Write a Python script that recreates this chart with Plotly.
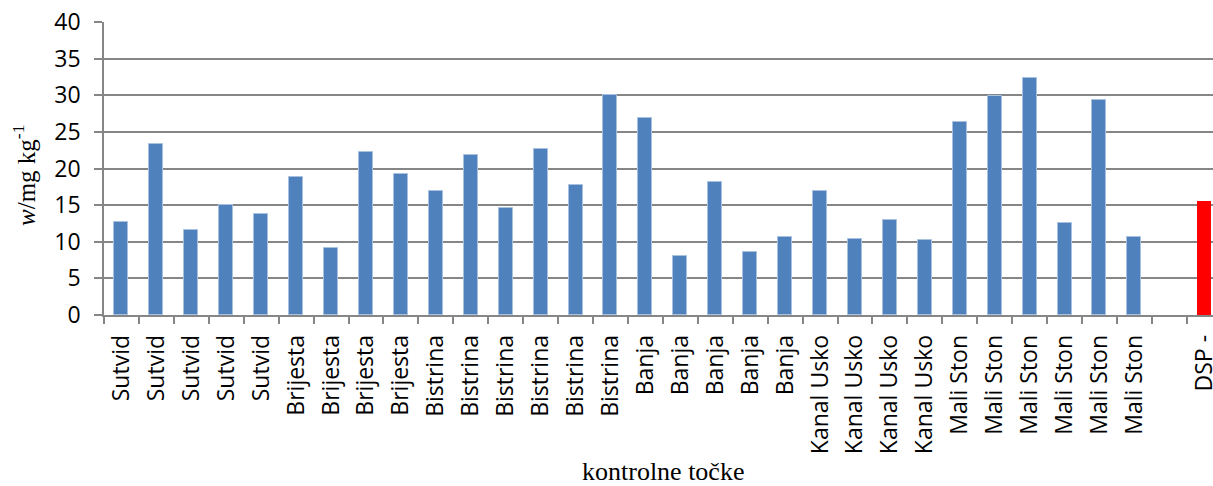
import plotly.graph_objects as go

labels = ["Sutvid", "Sutvid", "Sutvid", "Sutvid", "Sutvid",
          "Brijesta", "Brijesta", "Brijesta", "Brijesta",
          "Bistrina", "Bistrina", "Bistrina", "Bistrina", "Bistrina", "Bistrina",
          "Banja", "Banja", "Banja", "Banja", "Banja",
          "Kanal Usko", "Kanal Usko", "Kanal Usko", "Kanal Usko",
          "Mali Ston", "Mali Ston", "Mali Ston", "Mali Ston", "Mali Ston", "Mali Ston"]
values = [12.7, 23.4, 11.6, 15.0, 13.8,
          18.9, 9.2, 22.2, 19.2,
          16.9, 21.9, 14.6, 22.7, 17.7, 30.0,
          26.9, 8.1, 18.2, 8.6, 10.6,
          16.9, 10.4, 13.0, 10.3,
          26.4, 29.9, 32.4, 12.6, 29.3, 10.7]
dsp_label = "DSP -"
dsp_value = 15.6
y_ticks = [0, 5, 10, 15, 20, 25, 30, 35, 40]
x_title = "kontrolne točke"
y_title = "<i>w</i>/mg kg<sup>-1</sup>"

x_main = list(range(len(labels)))
x_dsp = len(labels) + 1

fig = go.Figure()
fig.add_trace(go.Bar(x=x_main, y=values, width=0.4,
                     marker=dict(color="#4F81BD", line=dict(color="#A9C1E0", width=1))))
fig.add_trace(go.Bar(x=[x_dsp], y=[dsp_value], width=0.4,
                     marker=dict(color="#FF0000", line=dict(width=0))))

fig.update_layout(
    width=1213, height=486,
    margin=dict(l=104, r=0, t=22, b=171, autoexpand=False),
    paper_bgcolor="white", plot_bgcolor="white",
    showlegend=False,
    bargap=0,
    font=dict(family="Open Sans", color="black"),
    xaxis=dict(
        range=[-0.5, 31.25],
        tickvals=x_main + [x_dsp],
        ticktext=labels + [dsp_label],
        tickangle=-90,
        tickfont=dict(family="Open Sans", size=23, color="black"),
        ticks="",
        ticklabelstandoff=9,
        ticklabeloverflow="allow",
        showgrid=False,
        zeroline=False,
        showline=True, linecolor="#868686", linewidth=1.5,
        minor=dict(tick0=-0.5, dtick=1, ticks="outside", ticklen=7,
                   tickcolor="#868686", tickwidth=1.5, showgrid=False),
        automargin=False,
    ),
    yaxis=dict(
        range=[0, 40],
        tickvals=y_ticks,
        tickfont=dict(family="Open Sans", size=23, color="black"),
        ticks="outside", ticklen=8, tickcolor="#868686", tickwidth=1.5,
        ticklabelstandoff=9,
        showgrid=True, gridcolor="#868686", gridwidth=1.5,
        zeroline=False,
        showline=True, linecolor="#868686", linewidth=1.5,
        automargin=False,
    ),
    annotations=[
        dict(text=x_title, xref="paper", yref="paper",
             x=(663 - 104) / 1109, y=(315 - 471) / 293,
             xanchor="center", yanchor="middle", showarrow=False,
             font=dict(family="Liberation Serif", size=26, color="black")),
        dict(text=y_title, xref="paper", yref="paper",
             x=(24 - 104) / 1109, y=(315 - 176) / 293, textangle=-90,
             xanchor="center", yanchor="middle", showarrow=False,
             font=dict(family="Liberation Serif", size=25, color="black")),
    ],
)

fig.write_html("out.html", config={"displayModeBar": False},
               post_script="document.body.style.margin='0';document.body.style.overflow='hidden';")
